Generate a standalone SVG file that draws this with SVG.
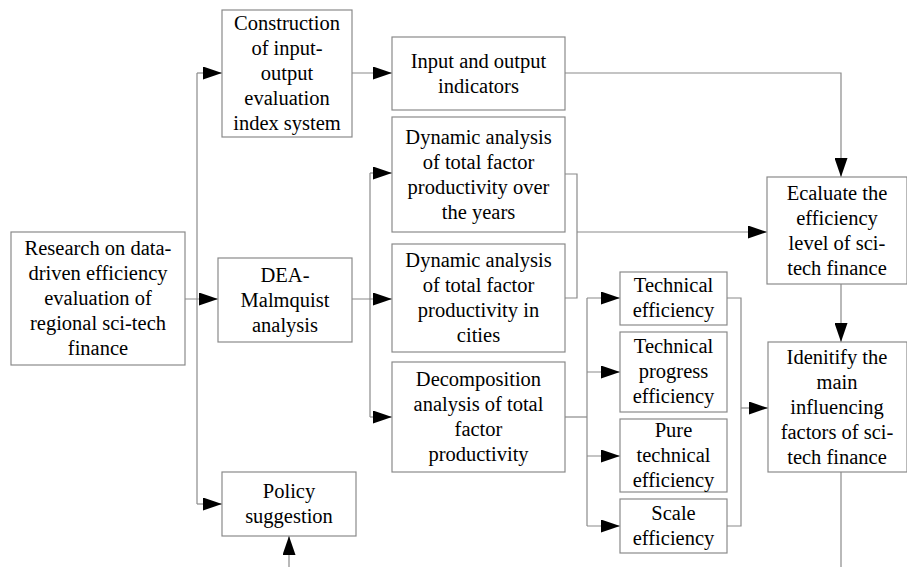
<svg xmlns="http://www.w3.org/2000/svg" width="907" height="567" viewBox="0 0 907 567">
<defs>
<style>
.t{font-family:"Times New Roman","Liberation Serif","DejaVu Serif",serif;font-size:20.5px;fill:#000;text-anchor:middle}
.b{fill:#fff;stroke:#8a8a8a;stroke-width:1.2}
.c path{fill:none;stroke:#8a8a8a;stroke-width:1.2}
</style>
<marker id="ah" markerUnits="userSpaceOnUse" markerWidth="19" markerHeight="13" refX="19" refY="6.5" orient="auto">
<path d="M0,0 L19,6.5 L0,13 Z" fill="#000"/>
</marker>
</defs>
<rect x="0" y="0" width="907" height="567" fill="#fff"/>
<g class="c" id="connectors">
<path d="M197,73 V504"/>
<path d="M197,73 H222" marker-end="url(#ah)"/>
<path d="M185,299 H218" marker-end="url(#ah)"/>
<path d="M197,504 H222" marker-end="url(#ah)"/>
<path d="M352,73 H392" marker-end="url(#ah)"/>
<path d="M352,299 H392" marker-end="url(#ah)"/>
<path d="M370,173 V417"/>
<path d="M370,173 H392" marker-end="url(#ah)"/>
<path d="M370,417 H392" marker-end="url(#ah)"/>
<path d="M565,73 H841 V177" marker-end="url(#ah)"/>
<path d="M565,174 H577 V298 H565"/>
<path d="M577,232 H767" marker-end="url(#ah)"/>
<path d="M565,417 H587"/>
<path d="M587,298 V526"/>
<path d="M587,298 H620" marker-end="url(#ah)"/>
<path d="M587,372 H620" marker-end="url(#ah)"/>
<path d="M587,456 H620" marker-end="url(#ah)"/>
<path d="M587,526 H620" marker-end="url(#ah)"/>
<path d="M727,298 H741 V526 H727"/>
<path d="M741,408 H768" marker-end="url(#ah)"/>
<path d="M841,284 V342" marker-end="url(#ah)"/>
<path d="M841,472 V567"/>
<path d="M289,567 V536" marker-end="url(#ah)"/>
</g>
<g id="research">
<rect class="b" x="11" y="232" width="174" height="133"/>
<text class="t" x="98" y="255">Research on data-</text>
<text class="t" x="98" y="280">driven efficiency</text>
<text class="t" x="98" y="305">evaluation of</text>
<text class="t" x="98" y="330">regional sci-tech</text>
<text class="t" x="98" y="355">finance</text>
</g>
<g id="construction">
<rect class="b" x="222" y="10" width="130" height="127"/>
<text class="t" x="287" y="30">Construction</text>
<text class="t" x="287" y="55">of input-</text>
<text class="t" x="287" y="80">output</text>
<text class="t" x="287" y="105">evaluation</text>
<text class="t" x="287" y="130">index system</text>
</g>
<g id="dea">
<rect class="b" x="218" y="258" width="134" height="84"/>
<text class="t" x="285" y="282">DEA-</text>
<text class="t" x="285" y="307">Malmquist</text>
<text class="t" x="285" y="332">analysis</text>
</g>
<g id="policy">
<rect class="b" x="222" y="472" width="134" height="64"/>
<text class="t" x="289" y="498">Policy</text>
<text class="t" x="289" y="523">suggestion</text>
</g>
<g id="indicators">
<rect class="b" x="392" y="37" width="173" height="73"/>
<text class="t" x="478.5" y="68">Input and output</text>
<text class="t" x="478.5" y="93">indicators</text>
</g>
<g id="years">
<rect class="b" x="392" y="117" width="173" height="115"/>
<text class="t" x="478.5" y="144">Dynamic analysis</text>
<text class="t" x="478.5" y="169">of total factor</text>
<text class="t" x="478.5" y="194">productivity over</text>
<text class="t" x="478.5" y="219">the years</text>
</g>
<g id="cities">
<rect class="b" x="392" y="244" width="173" height="108"/>
<text class="t" x="478.5" y="267">Dynamic analysis</text>
<text class="t" x="478.5" y="292">of total factor</text>
<text class="t" x="478.5" y="317">productivity in</text>
<text class="t" x="478.5" y="342">cities</text>
</g>
<g id="decomposition">
<rect class="b" x="392" y="362" width="173" height="110"/>
<text class="t" x="478.5" y="386">Decomposition</text>
<text class="t" x="478.5" y="411">analysis of total</text>
<text class="t" x="478.5" y="436">factor</text>
<text class="t" x="478.5" y="461">productivity</text>
</g>
<g id="tech-eff">
<rect class="b" x="620" y="272" width="107" height="53"/>
<text class="t" x="673.5" y="292">Technical</text>
<text class="t" x="673.5" y="317">efficiency</text>
</g>
<g id="tech-progress">
<rect class="b" x="620" y="332" width="107" height="80"/>
<text class="t" x="673.5" y="353">Technical</text>
<text class="t" x="673.5" y="378">progress</text>
<text class="t" x="673.5" y="403">efficiency</text>
</g>
<g id="pure-tech">
<rect class="b" x="620" y="419" width="107" height="73"/>
<text class="t" x="673.5" y="437">Pure</text>
<text class="t" x="673.5" y="462">technical</text>
<text class="t" x="673.5" y="487">efficiency</text>
</g>
<g id="scale">
<rect class="b" x="620" y="499" width="107" height="54"/>
<text class="t" x="673.5" y="520">Scale</text>
<text class="t" x="673.5" y="545">efficiency</text>
</g>
<g id="evaluate">
<rect class="b" x="767" y="177" width="140" height="107"/>
<text class="t" x="837" y="200">Ecaluate the</text>
<text class="t" x="837" y="225">efficiency</text>
<text class="t" x="837" y="250">level of sci-</text>
<text class="t" x="837" y="275">tech finance</text>
</g>
<g id="identify">
<rect class="b" x="768" y="342" width="139" height="130"/>
<text class="t" x="837" y="364">Idenitify the</text>
<text class="t" x="837" y="389">main</text>
<text class="t" x="837" y="414">influencing</text>
<text class="t" x="837" y="439">factors of sci-</text>
<text class="t" x="837" y="464">tech finance</text>
</g>
</svg>
